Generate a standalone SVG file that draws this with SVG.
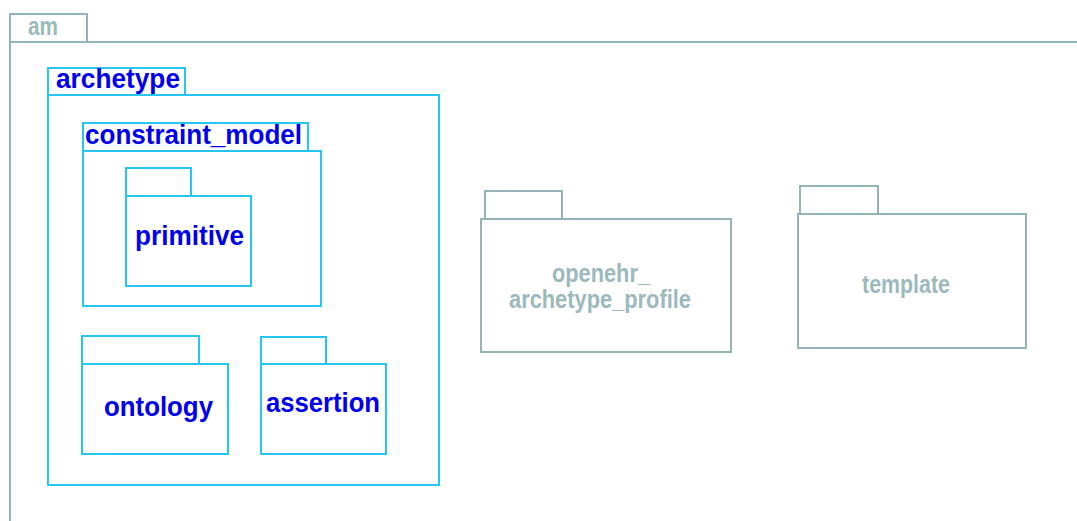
<svg xmlns="http://www.w3.org/2000/svg" width="1077" height="521" viewBox="0 0 1077 521">
<style>
.b{fill:#fff;stroke:#26c6f2;stroke-width:2}
.g{fill:#fff;stroke:#95b4b8;stroke-width:2}
.bt{font-family:"Liberation Sans",Arial,sans-serif;font-weight:bold;font-size:28px;fill:#0000ee}
.gt{font-family:"Liberation Sans",Arial,sans-serif;font-weight:bold;font-size:25px;fill:#9cb9bc}
</style>
<rect width="1077" height="521" fill="#fff"/>
<g id="am">
<rect class="g" x="10" y="14" width="77" height="28"/>
<path d="M1077 42H10V521" fill="none" stroke="#95b4b8" stroke-width="2"/>
<text class="gt" x="28" y="35" font-size="23" textLength="30" lengthAdjust="spacingAndGlyphs">am</text>
</g>
<g id="archetype">
<rect class="b" x="48" y="68" width="137" height="27"/>
<rect class="b" x="48" y="95" width="391" height="390"/>
<text class="bt" x="56" y="88" textLength="124" lengthAdjust="spacingAndGlyphs">archetype</text>
</g>
<g id="constraint_model">
<rect class="b" x="83" y="123" width="225" height="28"/>
<rect class="b" x="83" y="151" width="238" height="155"/>
<text class="bt" x="85" y="144" textLength="217" lengthAdjust="spacingAndGlyphs">constraint_model</text>
</g>
<g id="primitive">
<rect class="b" x="126" y="168" width="65" height="28"/>
<rect class="b" x="126" y="196" width="125" height="90"/>
<text class="bt" x="135" y="245" textLength="109" lengthAdjust="spacingAndGlyphs">primitive</text>
</g>
<g id="ontology">
<rect class="b" x="82" y="336" width="117" height="28"/>
<rect class="b" x="82" y="364" width="146" height="90"/>
<text class="bt" x="104" y="416" textLength="109" lengthAdjust="spacingAndGlyphs">ontology</text>
</g>
<g id="assertion">
<rect class="b" x="261" y="337" width="65" height="27"/>
<rect class="b" x="261" y="364" width="125" height="90"/>
<text class="bt" x="266" y="412" textLength="114" lengthAdjust="spacingAndGlyphs">assertion</text>
</g>
<g id="openehr_archetype_profile">
<rect class="g" x="485" y="191" width="77" height="28"/>
<rect class="g" x="481" y="219" width="250" height="133"/>
<text class="gt" x="552" y="282" textLength="98" lengthAdjust="spacingAndGlyphs">openehr_</text>
<text class="gt" x="509" y="308" textLength="182" lengthAdjust="spacingAndGlyphs">archetype_profile</text>
</g>
<g id="template">
<rect class="g" x="800" y="186" width="78" height="28"/>
<rect class="g" x="798" y="214" width="228" height="134"/>
<text class="gt" x="862" y="293" textLength="88" lengthAdjust="spacingAndGlyphs">template</text>
</g>
<g id="connectors"></g>
</svg>
